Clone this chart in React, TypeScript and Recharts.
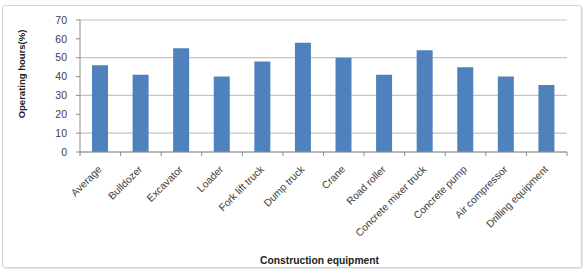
import React from "react";
import { BarChart, Bar, XAxis, YAxis, CartesianGrid, Label } from "recharts";

const equipment = [
  "Average",
  "Bulldozer",
  "Excavator",
  "Loader",
  "Fork lift truck",
  "Dump truck",
  "Crane",
  "Road roller",
  "Concrete mixer truck",
  "Concrete pump",
  "Air compressor",
  "Drilling equipment",
];
const operatingHours = [46, 41, 55, 40, 48, 58, 50, 41, 54, 45, 40, 35.5];
const yTicks = [0, 10, 20, 30, 40, 50, 60, 70];

const data = equipment.map((name, i) => ({ name, hours: operatingHours[i] }));

const FONT = "'Liberation Sans', Arial, sans-serif";
const TEXT = "#404040";
const AXIS = "#8c8c8c";

// Category tick: slanted label plus Excel-style marks on the category boundaries
function EquipmentTick(props: any) {
  const { x, y, payload, index } = props;
  const half = payload.offset || 0;
  const last = index === equipment.length - 1;
  const top = y - 8;
  const ax = x + 2;
  const ay = top + 18;
  return (
    <g>
      <line x1={x - half} y1={top} x2={x - half} y2={top + 4} stroke={AXIS} />
      {last && <line x1={x + half} y1={top} x2={x + half} y2={top + 4} stroke={AXIS} />}
      <text
        x={ax}
        y={ay}
        textAnchor="end"
        fontSize={10.3}
        fontFamily={FONT}
        fill={TEXT}
        transform={`rotate(-45, ${ax}, ${ay})`}
      >
        {payload.value}
      </text>
    </g>
  );
}

export default function App() {
  return (
    <div style={{ position: "absolute", left: 0, top: 0, width: 583, height: 279, background: "#fff" }}>
      <div
        style={{
          position: "absolute",
          left: 2,
          top: 5,
          width: 578,
          height: 261,
          border: "1px solid #d4d4d4",
          borderRadius: 3,
          boxShadow: "1px 1px 0 #e6e6e6",
        }}
      />
      <BarChart
        width={583}
        height={279}
        data={data}
        margin={{ top: 20, right: 16, bottom: 0, left: 0 }}
        style={{ position: "absolute", left: 0, top: 0 }}
      >
        <CartesianGrid vertical={false} stroke="#c4c4c4" strokeWidth={1.2} />
        <XAxis
          dataKey="name"
          interval={0}
          stroke={AXIS}
          tickLine={false}
          tick={<EquipmentTick />}
          height={127}
        >
          <Label
            value="Construction equipment"
            position="insideBottom"
            offset={15}
            dx={-4}
            style={{ fontFamily: FONT, fontSize: 10.3, fontWeight: "bold", fill: "#222" }}
          />
        </XAxis>
        <YAxis
          domain={[0, 70]}
          ticks={yTicks}
          width={80}
          stroke={AXIS}
          tickSize={4}
          tickMargin={9}
          tick={{ fontFamily: FONT, fontSize: 10.5, fill: TEXT }}
        >
          <Label
            value="Operating hours(%)"
            angle={-90}
            position="insideLeft"
            offset={22}
            dy={-12}
            style={{ fontFamily: FONT, fontSize: 9.5, fontWeight: "bold", fill: "#222", textAnchor: "middle" }}
          />
        </YAxis>
        <Bar dataKey="hours" fill="#4f81bd" barSize={16} isAnimationActive={false} />
      </BarChart>
    </div>
  );
}
